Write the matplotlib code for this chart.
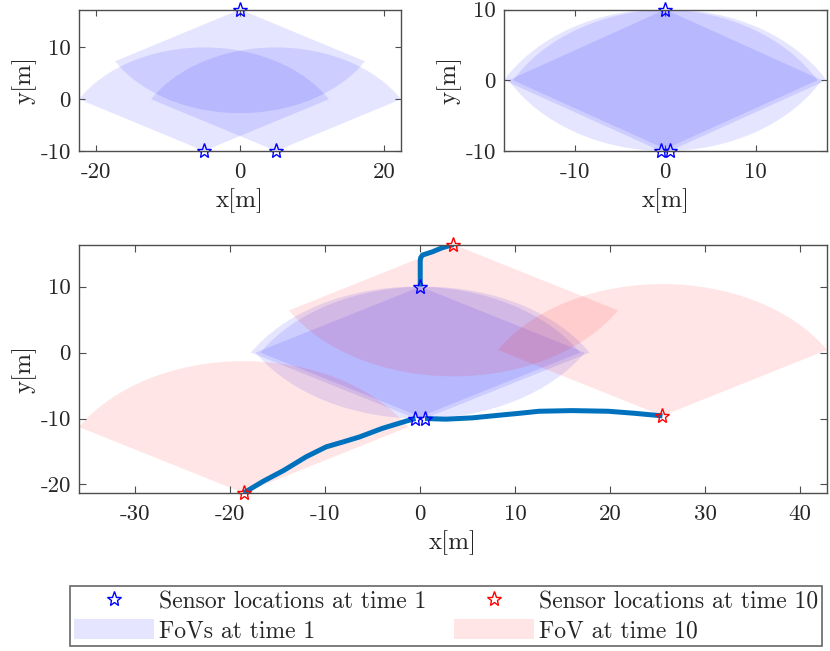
import numpy as np
import matplotlib
matplotlib.use("Agg")
import matplotlib.pyplot as plt
from matplotlib.patches import Wedge, Patch
from matplotlib.lines import Line2D

plt.rcParams['font.family'] = 'cmr10'
plt.rcParams['axes.unicode_minus'] = False
plt.rcParams['mathtext.fontset'] = 'cm'

## FoV settings (radius and half opening angle, deg)
fov_r = 20.0
fov_half = 60.0

## top left: sensor layout 1
tl_x = [0.0, -5.0, 5.0]
tl_y = [17.32, -10.0, -10.0]
tl_dir = [-90.0, 90.0, 90.0]

## top right: sensor layout 2
tr_x = [0.0, -0.5, 0.5]
tr_y = [10.0, -10.0, -10.0]
tr_dir = [-90.0, 90.0, 90.0]

## bottom: time 1 and time 10
t1_x = [0.0, -0.5, 0.5]
t1_y = [10.0, -10.0, -10.0]
t1_dir = [-90.0, 90.0, 90.0]

t10_x = [3.5, 25.5, -18.6]
t10_y = [16.4, -9.6, -21.3]
t10_dir = [-90.0, 90.0, 90.0]

## trajectories
traj1_x = [0.0, 0.0, 0.0, 0.05, 0.24, 1.3, 2.3, 3.5]
traj1_y = [10.0, 12.0, 13.9, 14.4, 14.8, 15.3, 15.9, 16.4]
traj2_x = [0.5, 2.7, 5.5, 8.3, 10.5, 12.5, 16.0, 19.8, 22.5, 25.5]
traj2_y = [-10.0, -10.1, -9.9, -9.5, -9.2, -8.9, -8.8, -8.9, -9.2, -9.6]
traj3_x = [-0.5, -1.5, -4.0, -6.4, -8.0, -9.9, -12.0, -14.4, -16.5, -18.6]
traj3_y = [-10.0, -10.4, -11.5, -12.8, -13.5, -14.3, -15.8, -17.9, -19.5, -21.3]

traj_col = (0, 0.447, 0.741)
frame_col = '0.3'
text_col = '0.15'


def draw_fovs(ax, xs, ys, dirs, col):
    vx, vy = list(xs), list(ys)
    for x, y, d in zip(xs, ys, dirs):
        w = Wedge((x, y), fov_r, d - fov_half, d + fov_half,
                  facecolor=col, edgecolor='none', alpha=0.1)
        ax.add_patch(w)
        for a in (d - fov_half, d + fov_half):
            vx.append(x + fov_r * np.cos(np.radians(a)))
            vy.append(y + fov_r * np.sin(np.radians(a)))
    return vx, vy


def style(ax, xt, yt):
    ax.set_xticks(xt)
    ax.set_yticks(yt)
    ax.tick_params(direction='in', top=True, right=True, labelsize=16.5,
                   length=4, width=0.8, color=frame_col, labelcolor=text_col)
    ax.tick_params(axis='x', pad=8)
    ax.tick_params(axis='y', pad=6)
    for s in ax.spines.values():
        s.set_color(frame_col)
        s.set_linewidth(1.0)
    ax.set_xlabel('x[m]', fontsize=18, labelpad=5, color=text_col)
    ax.set_ylabel('y[m]', fontsize=18, labelpad=3, color=text_col)


fig = plt.figure(figsize=(8.3, 6.51), dpi=100)

ax1 = fig.add_axes([79 / 830, 1 - 151 / 651, 322 / 830, 141.5 / 651])
vx, vy = draw_fovs(ax1, tl_x, tl_y, tl_dir, 'b')
ax1.plot(tl_x, tl_y, '*', ms=11, mfc='none', mec='b', mew=1.0, clip_on=False)
ax1.set_xlim(min(vx), max(vx))
ax1.set_ylim(min(tl_y), max(tl_y))
style(ax1, [-20, 0, 20], [-10, 0, 10])

ax2 = fig.add_axes([504 / 830, 1 - 151 / 651, 322.5 / 830, 141.5 / 651])
vx, vy = draw_fovs(ax2, tr_x, tr_y, tr_dir, 'b')
ax2.plot(tr_x, tr_y, '*', ms=11, mfc='none', mec='b', mew=1.0, clip_on=False)
ax2.set_xlim(min(vx), max(vx))
ax2.set_ylim(min(tr_y), max(tr_y))
style(ax2, [-10, 0, 10], [-10, 0, 10])

ax3 = fig.add_axes([79 / 830, 1 - 493 / 651, 748 / 830, 248.5 / 651])
vx1, vy1 = draw_fovs(ax3, t1_x, t1_y, t1_dir, 'b')
vx2, vy2 = draw_fovs(ax3, t10_x, t10_y, t10_dir, 'r')
ax3.plot(traj1_x, traj1_y, color=traj_col, lw=3.6, solid_capstyle='butt')
ax3.plot(traj2_x, traj2_y, color=traj_col, lw=3.6, solid_capstyle='butt')
ax3.plot(traj3_x, traj3_y, color=traj_col, lw=3.6, solid_capstyle='butt')
ax3.plot(t1_x, t1_y, '*', ms=11, mfc='none', mec='b', mew=1.0, clip_on=False)
ax3.plot(t10_x, t10_y, '*', ms=11, mfc='none', mec='r', mew=1.0, clip_on=False)
ax3.set_xlim(min(vx1 + vx2), max(vx1 + vx2))
ax3.set_ylim(min(t1_y + t10_y), max(t1_y + t10_y))
style(ax3, [-30, -20, -10, 0, 10, 20, 30, 40], [-20, -10, 0, 10])
ax3.tick_params(length=5)

handles = [
    Line2D([], [], ls='none', marker='*', ms=11, mfc='none', mec='b', mew=1.0),
    Patch(facecolor='b', alpha=0.1, edgecolor='none'),
    Line2D([], [], ls='none', marker='*', ms=11, mfc='none', mec='r', mew=1.0),
    Patch(facecolor='r', alpha=0.1, edgecolor='none'),
]
labels = ['Sensor locations at time 1', 'FoVs at time 1',
          'Sensor locations at time 10', 'FoV at time 10']
leg = fig.legend(handles, labels, ncol=2, loc='upper left',
                 bbox_to_anchor=(70 / 830, 1 - 586 / 651, 752 / 830, 0),
                 mode='expand', fontsize=17, handlelength=3.4, handleheight=0.95,
                 handletextpad=0.2, labelspacing=0.23, borderaxespad=0,
                 fancybox=False, framealpha=1, edgecolor='0.4',
                 borderpad=0.17, columnspacing=0.8)
leg.get_frame().set_linewidth(1.2)
for t in leg.get_texts():
    t.set_color(text_col)

fig.savefig('out.png', dpi=100)
